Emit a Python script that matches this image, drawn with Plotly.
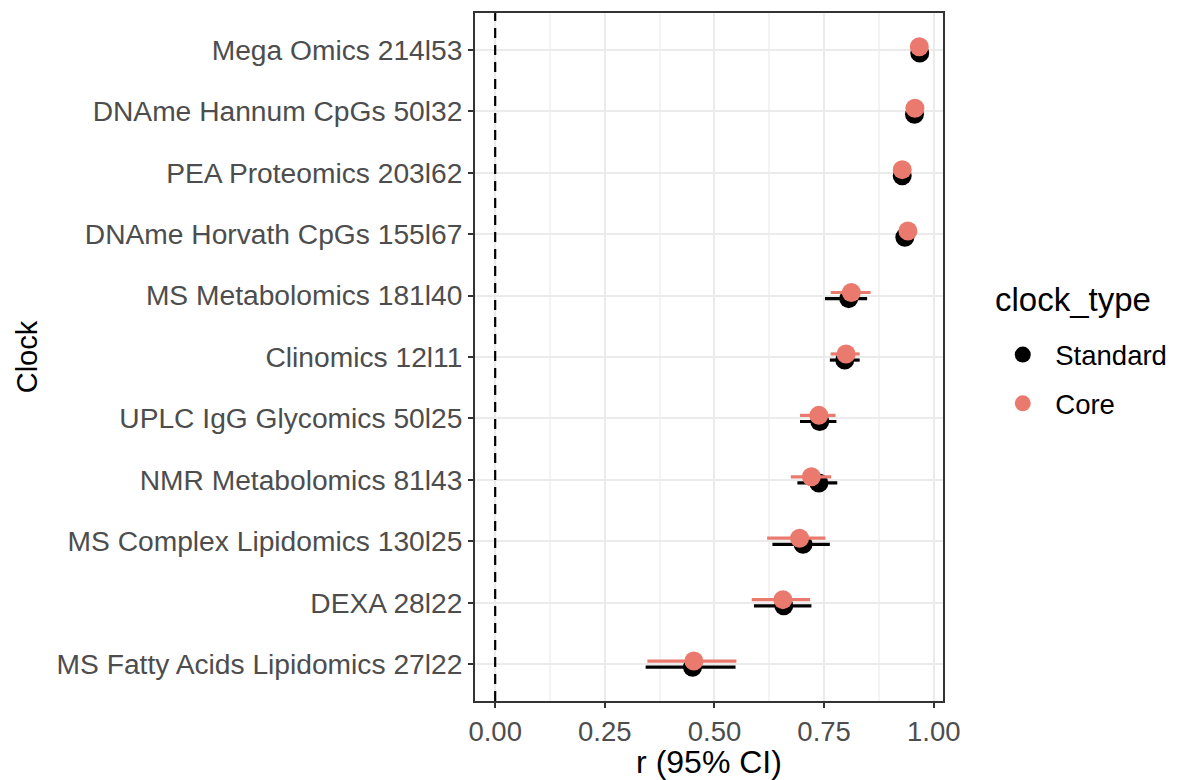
import plotly.graph_objects as go

# Categories listed bottom -> top
clocks = [
    "MS Fatty Acids Lipidomics 27l22",
    "DEXA 28l22",
    "MS Complex Lipidomics 130l25",
    "NMR Metabolomics 81l43",
    "UPLC IgG Glycomics 50l25",
    "Clinomics 12l11",
    "MS Metabolomics 181l40",
    "DNAme Horvath CpGs 155l67",
    "PEA Proteomics 203l62",
    "DNAme Hannum CpGs 50l32",
    "Mega Omics 214l53",
]

std_r = [0.450, 0.658, 0.702, 0.738, 0.740, 0.797, 0.806, 0.934, 0.928, 0.956, 0.968]
std_lo = [0.343, 0.590, 0.632, 0.689, 0.695, 0.763, 0.752, 0.922, 0.916, 0.946, 0.961]
std_hi = [0.548, 0.721, 0.763, 0.780, 0.778, 0.831, 0.848, 0.946, 0.940, 0.966, 0.975]

core_r = [0.453, 0.656, 0.694, 0.721, 0.738, 0.800, 0.812, 0.941, 0.928, 0.957, 0.967]
core_lo = [0.347, 0.585, 0.620, 0.674, 0.695, 0.765, 0.765, 0.930, 0.916, 0.947, 0.960]
core_hi = [0.550, 0.718, 0.753, 0.766, 0.776, 0.831, 0.856, 0.952, 0.940, 0.967, 0.974]

x_ticks = [0.0, 0.25, 0.5, 0.75, 1.0]
x_tick_labels = ["0.00", "0.25", "0.50", "0.75", "1.00"]

DODGE = 0.05
BLACK = "#000000"
SALMON = "#EA7A6E"
FONT = "Liberation Sans, Arial, Helvetica, sans-serif"

pos = list(range(1, len(clocks) + 1))

fig = go.Figure()

fig.add_trace(go.Scatter(
    x=std_r, y=[p - DODGE for p in pos], mode="markers", name="Standard",
    legendgroup="std",
    marker=dict(color=BLACK, size=19),
    error_x=dict(type="data", symmetric=False,
                 array=[h - r for h, r in zip(std_hi, std_r)],
                 arrayminus=[r - l for r, l in zip(std_r, std_lo)],
                 color=BLACK, thickness=3.2, width=0),
))
fig.add_trace(go.Scatter(
    x=core_r, y=[p + DODGE for p in pos], mode="markers", name="Core",
    legendgroup="core",
    marker=dict(color=SALMON, size=19),
    error_x=dict(type="data", symmetric=False,
                 array=[h - r for h, r in zip(core_hi, core_r)],
                 arrayminus=[r - l for r, l in zip(core_r, core_lo)],
                 color=SALMON, thickness=3.2, width=0),
))

fig.add_vline(x=0, line=dict(color="black", width=2.2, dash="10px,7px"), layer="above")

fig.add_annotation(
    text="clock_type", xref="paper", yref="paper", x=1.107, y=0.583,
    xanchor="left", yanchor="middle", showarrow=False,
    font=dict(size=33, color="#000000", family=FONT),
)

fig.update_layout(
    width=1178, height=780,
    margin=dict(l=475, r=235, t=13, b=79, autoexpand=False),
    paper_bgcolor="white", plot_bgcolor="white",
    font=dict(family=FONT, color="#000000"),
    showlegend=True,
    legend=dict(
        font=dict(size=27.5, color="#000000"),
        x=1.101, xanchor="left", y=0.539, yanchor="top",
        bgcolor="rgba(0,0,0,0)", itemsizing="trace",
        itemwidth=55, tracegroupgap=10,
    ),
    xaxis=dict(
        range=[-0.046, 1.021],
        tickvals=x_ticks, ticktext=x_tick_labels,
        tickfont=dict(size=27.5, color="#4D4D4D"),
        ticks="outside", ticklen=5, tickwidth=2, tickcolor="#333333",
        showgrid=True, gridcolor="#EBEBEB", gridwidth=2,
        minor=dict(dtick=0.125, tick0=0.125, showgrid=True, gridcolor="#F3F3F3", gridwidth=1.5),
        zeroline=False, automargin=False,
        showline=True, linecolor="#333333", linewidth=2, mirror=True,
        title=dict(text="r (95% CI)", font=dict(size=32, color="#000000"), standoff=8),
    ),
    yaxis=dict(
        range=[0.4, len(clocks) + 0.6],
        tickvals=pos, ticktext=clocks,
        tickfont=dict(size=28.2, color="#4D4D4D"),
        ticks="outside", ticklen=5, tickwidth=2, tickcolor="#333333",
        showgrid=True, gridcolor="#EBEBEB", gridwidth=2,
        zeroline=False, automargin=False,
        showline=True, linecolor="#333333", linewidth=2, mirror=True,
        title=dict(text="Clock", font=dict(size=29, color="#000000"), standoff=10),
    ),
)

fig.write_html("out.html")
